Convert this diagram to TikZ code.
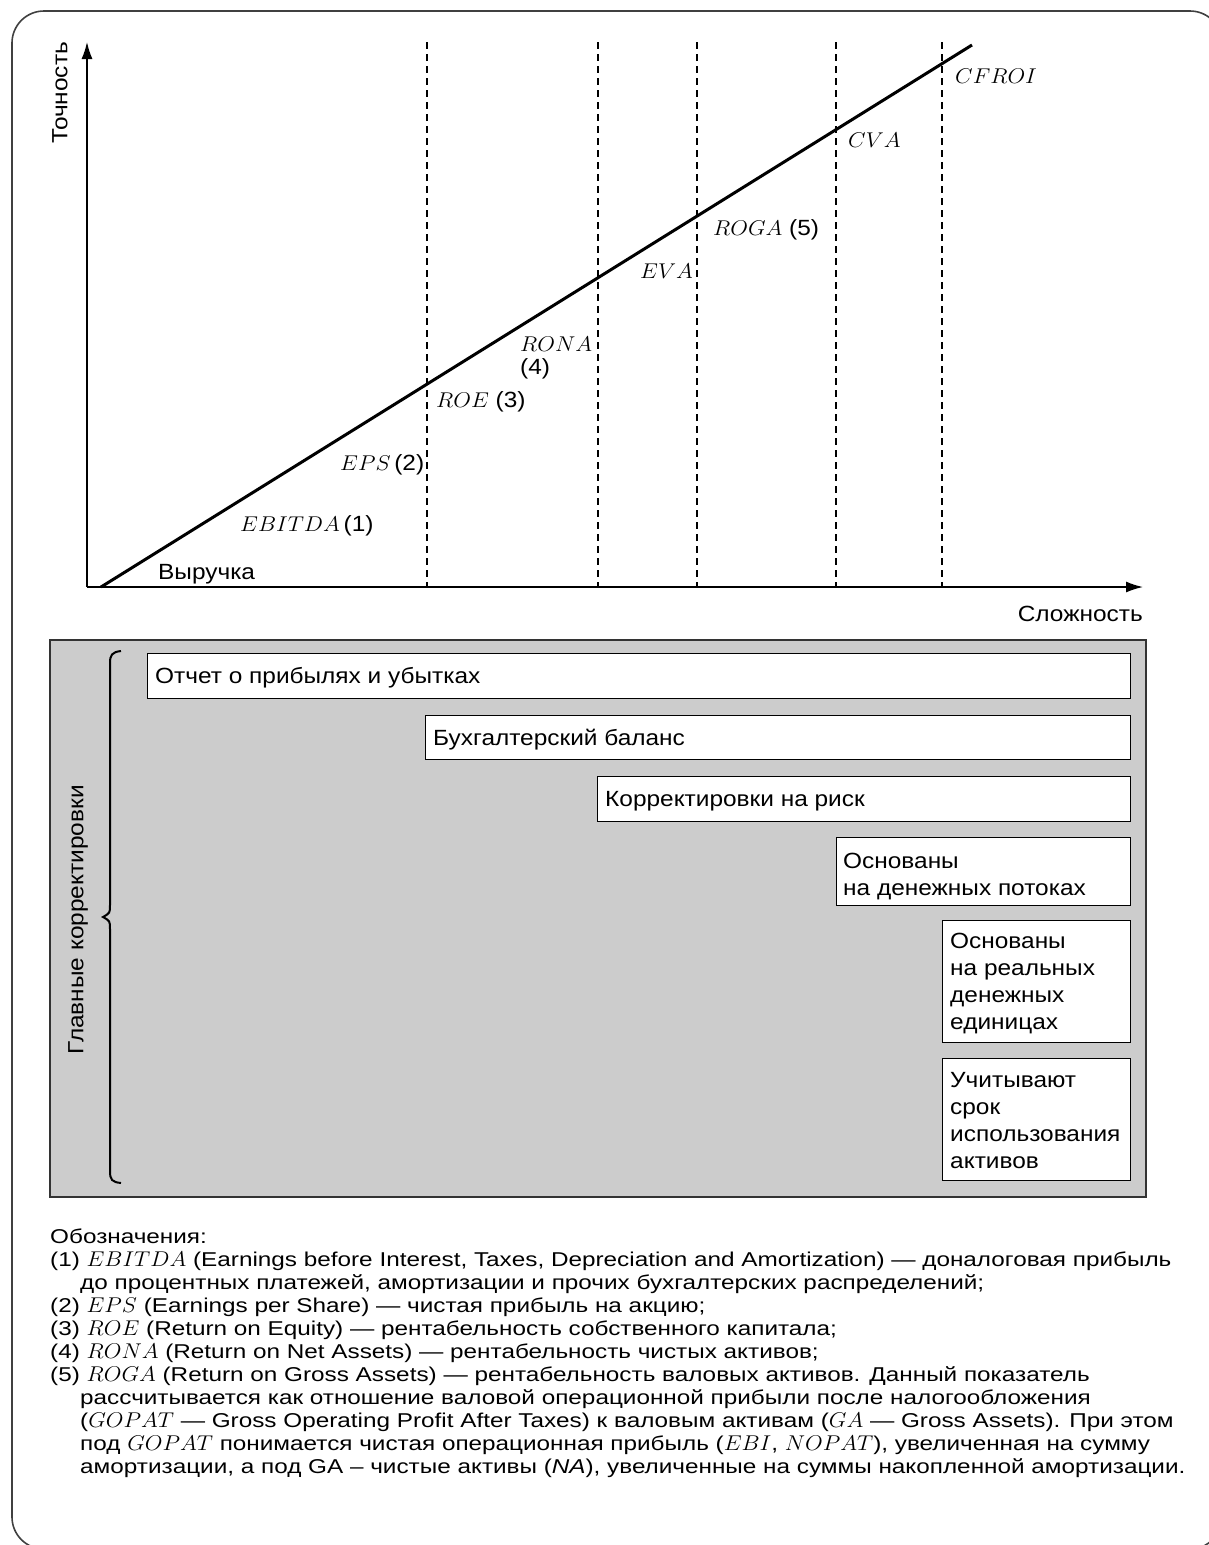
\documentclass[tikz,border=0pt]{standalone}
\usepackage{fontspec}
\usepackage{graphicx}
\setmainfont{Liberation Sans}
\newfontfamily\chartfam{Liberation Sans}[FakeStretch=1.11]
\newfontfamily\legfam{Liberation Sans}[FakeStretch=1.215]
\usetikzlibrary{arrows.meta}
\newcommand\chartfont{\chartfam\fontsize{22}{23}\selectfont}
\newcommand\boxfont{\chartfam\fontsize{22}{27}\selectfont}
\newcommand\legfont{\legfam\fontsize{20}{23}\selectfont}
\newcommand\mi[1]{\scalebox{1.1}[1.03]{$#1$}}
\begin{document}
\begin{tikzpicture}[x=1pt,y=-1pt,
  frame/.style={draw=black!75, line width=1.6pt, rounded corners=32pt},
  axis/.style={line width=1.5pt, -{Latex[length=17pt,width=11pt]}},
  guide/.style={line width=1.2pt, dash pattern=on 7pt off 5pt},
  trend/.style={line width=3pt},
  lab/.style={inner sep=0pt, anchor=base west, font=\chartfont},
  panel/.style={draw=black!80, fill=black!20, line width=1.5pt, inner sep=0pt, anchor=north west},
  box/.style={draw=black, fill=white, line width=1.3pt, inner sep=0pt, anchor=north west},
  boxtext/.style={inner sep=0pt, anchor=base west, align=left, font=\boxfont},
  leg/.style={inner sep=0pt, anchor=base west, font=\legfont},
  brace/.style={line width=2pt}
]
\useasboundingbox (0,0) rectangle (1208,1545);
\draw[frame] (12,11) rectangle (1222,1549);

% chart
\coordinate (O) at (87,587);
\coordinate (ytop) at (87,42);
\coordinate (xend) at (1143,587);
\foreach \x in {427,598,697,836,942}{
  \draw[guide] (\x,42) -- (\x,587);
}
\draw[axis] (O) -- (ytop);
\draw[axis] (O) -- (xend);
\coordinate (t0) at (101,587);
\coordinate (t1) at (972,45);
\draw[trend] (t0) -- (t1);

\node[rotate=90, font=\chartfont, inner sep=0pt] (ylab) at (60,93) {Точность};
\node[inner sep=0pt, anchor=base east, font=\chartfont] (xlab) at (1143,621) {Сложность};

\node[lab] (l0) at (158,579) {Выручка};
\node[lab] (l1) at (240,531) {\mi{EBITDA}\,(1)};
\node[lab] (l2) at (340,470) {\mi{EPS}\,(2)};
\node[lab] (l3) at (436,407) {\mi{ROE} (3)};
\node[lab, align=left] (l4) at (520,374) {\mi{RONA}\\(4)};
\node[lab] (l5) at (640,278) {\mi{EVA}};
\node[lab] (l6) at (713,235) {\mi{ROGA} (5)};
\node[lab] (l7) at (848,147) {\mi{CVA}};
\node[lab] (l8) at (955,83) {\mi{CFROI}};

% panel
\node[panel, minimum width=1096pt, minimum height=557pt] (panel) at (49,639) {};
\draw[brace] (121,651) .. controls (112,652) and (110,655) .. (110,663) -- (110,905)
  .. controls (110,913) .. (103,917) .. controls (110,921) .. (110,929) -- (110,1171)
  .. controls (110,1180) and (112,1182) .. (121,1183);
\node[rotate=90, font=\boxfont, inner sep=0pt] (main) at (78,920) {Главные корректировки};

\node[box, minimum width=983pt, minimum height=45pt] (b1) at (147,653) {};
\node[box, minimum width=705pt, minimum height=44pt] (b2) at (425,715) {};
\node[box, minimum width=533pt, minimum height=45pt] (b3) at (597,776) {};
\node[box, minimum width=294pt, minimum height=68pt] (b4) at (836,837) {};
\node[box, minimum width=188pt, minimum height=122pt] (b5) at (942,920) {};
\node[box, minimum width=188pt, minimum height=122pt] (b6) at (942,1058) {};

\node[boxtext] (bt1) at (155,683) {Отчет о прибылях и убытках};
\node[boxtext] (bt2) at (433,745) {Бухгалтерский баланс};
\node[boxtext] (bt3) at (605,806) {Корректировки на риск};
\node[boxtext] (bt4) at (843,895) {Основаны\\на денежных потоках};
\node[boxtext] (bt5) at (950,1029) {Основаны\\на реальных\\денежных\\единицах};
\node[boxtext] (bt6) at (950,1168) {Учитывают\\срок\\использования\\активов};

% legend
\node[leg] (g1) at (50,1243) {Обозначения:};
\node[leg] (g2) at (50,1266) {(1) \mi{EBITDA} (Earnings before Interest, Taxes, Depreciation and Amortization) — доналоговая прибыль};
\node[leg] (g3) at (80,1289) {до процентных платежей, амортизации и прочих бухгалтерских распределений;};
\node[leg] (g4) at (50,1312) {(2) \mi{EPS} (Earnings per Share) — чистая прибыль на акцию;};
\node[leg] (g5) at (50,1335) {(3) \mi{ROE} (Return on Equity) — рентабельность собственного капитала;};
\node[leg] (g6) at (50,1358) {(4) \mi{RONA} (Return on Net Assets) — рентабельность чистых активов;};
\node[leg] (g7) at (50,1381) {(5) \mi{ROGA} (Return on Gross Assets) — рентабельность валовых активов. Данный показатель};
\node[leg] (g8) at (80,1404) {рассчитывается как отношение валовой операционной прибыли после налогообложения};
\node[leg] (g9) at (80,1427) {(\mi{GOPAT} — Gross Operating Profit After Taxes) к валовым активам (\mi{GA} — Gross Assets). При этом};
\node[leg] (g10) at (80,1450) {под \mi{GOPAT} понимается чистая операционная прибыль (\mi{EBI}, \mi{NOPAT}), увеличенная на сумму};
\node[leg] (g11) at (80,1473) {амортизации, а под GA – чистые активы (\textit{NA}), увеличенные на суммы накопленной амортизации.};
\end{tikzpicture}
\end{document}
